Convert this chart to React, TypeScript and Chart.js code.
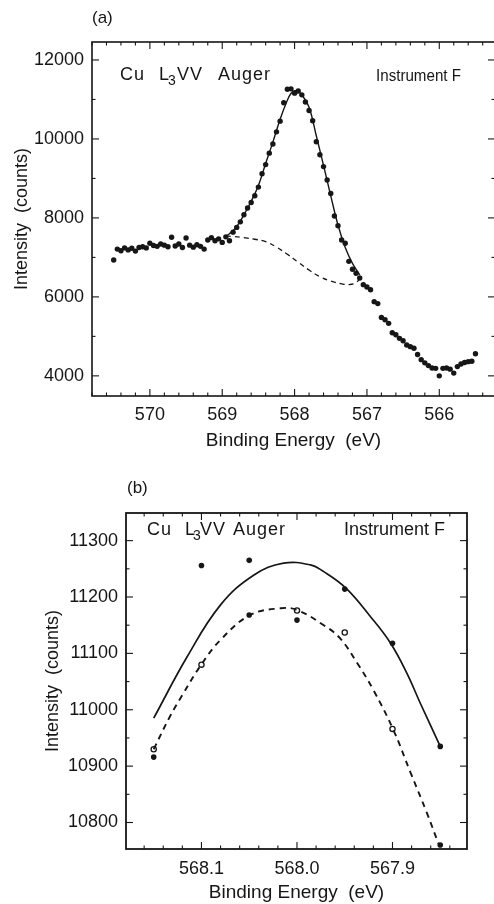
import React, { useEffect, useRef } from "react";
import { Chart, registerables } from "chart.js";

Chart.register(...registerables);

const FONT = '"Liberation Sans", Arial, Helvetica, sans-serif';
const INK = "#161616";

// ---------- Panel (a): Cu L3VV Auger, full spectrum ----------
const energyA = [
  570.5, 570.45, 570.4, 570.35, 570.3, 570.25, 570.2, 570.15, 570.1, 570.05,
  570.0, 569.95, 569.9, 569.85, 569.8, 569.75, 569.7, 569.65, 569.6, 569.55,
  569.5, 569.45, 569.4, 569.35, 569.3, 569.25, 569.2, 569.15, 569.1, 569.05,
  569.0, 568.95, 568.9, 568.85, 568.8, 568.75, 568.7, 568.65, 568.6, 568.55,
  568.5, 568.45, 568.4, 568.35, 568.3, 568.25, 568.2, 568.15, 568.1, 568.05,
  568.0, 567.95, 567.9, 567.85, 567.8, 567.75, 567.7, 567.65, 567.6, 567.55,
  567.5, 567.45, 567.4, 567.35, 567.3, 567.25, 567.2, 567.15, 567.1, 567.05,
  567.0, 566.95, 566.9, 566.85, 566.8, 566.75, 566.7, 566.65, 566.6, 566.55,
  566.5, 566.45, 566.4, 566.35, 566.3, 566.25, 566.2, 566.15, 566.1, 566.05,
  566.0, 565.95, 565.9, 565.85, 565.8, 565.75, 565.7, 565.65, 565.6, 565.55,
  565.5,
];
const countsA = [
  6935, 7210, 7170, 7240, 7190, 7230, 7160, 7250, 7270, 7240,
  7360, 7300, 7280, 7340, 7310, 7270, 7510, 7290, 7340, 7250,
  7490, 7310, 7260, 7320, 7280, 7210, 7440, 7500, 7420, 7470,
  7380, 7520, 7420, 7640, 7760, 7900, 8080, 8250, 8390, 8560,
  8780, 9120, 9350, 9640, 9870, 10180, 10450, 10915, 11258, 11268,
  11160, 11215, 11117, 10935, 10720, 10460, 9930, 9600, 9300, 8960,
  8620, 8050, 7800, 7440, 7360, 6900, 6700, 6600, 6480, 6310,
  6250, 6180, 5880, 5830, 5480, 5420, 5330, 5090, 5040, 4950,
  4890, 4780, 4740, 4700, 4540, 4410, 4330, 4260, 4200, 4190,
  4000, 4190, 4200, 4170, 4070, 4235, 4300, 4340, 4360, 4370,
  4560,
];
const fitEnergyA = [
  568.95, 568.9, 568.8, 568.7, 568.6, 568.5, 568.4, 568.3, 568.2, 568.1, 568.05,
  568.0, 567.95, 567.9, 567.8, 567.7, 567.6, 567.5, 567.4, 567.3, 567.2, 567.1,
];
const fitCountsA = [
  7540, 7600, 7780, 8080, 8420, 8820, 9380, 9920, 10500, 10980, 11150,
  11220, 11200, 11120, 10800, 10080, 9330, 8560, 7820, 7250, 6850, 6560,
];
const bgEnergyA = [
  568.95, 568.85, 568.7, 568.55, 568.4, 568.25, 568.1, 567.95, 567.8, 567.65,
  567.5, 567.35, 567.25, 567.15, 567.08,
];
const bgCountsA = [
  7540, 7530, 7500, 7460, 7400, 7260, 7080, 6880, 6680, 6510,
  6400, 6330, 6310, 6360, 6520,
];
const xTicksA = [570, 569, 568, 567, 566];
const yTicksA = [4000, 6000, 8000, 10000, 12000];

// ---------- Panel (b): peak region ----------
const solidEnergyB = [
  568.15, 568.115, 568.08, 568.045, 568.014, 567.986, 567.972, 567.949, 567.923,
  567.902, 567.885, 567.871, 567.85,
];
const solidCountsB = [
  10985, 11094, 11186, 11239, 11260, 11257, 11245, 11216, 11165,
  11118, 11065, 11012, 10935,
];
const dashedEnergyB = [
  568.15, 568.133, 568.12, 568.101, 568.08, 568.049, 568.017, 568.0, 567.972,
  567.955, 567.937, 567.92, 567.899, 567.881, 567.864, 567.852,
];
const dashedCountsB = [
  10930, 10988, 11026, 11078, 11124, 11168, 11180, 11177, 11150,
  11127, 11083, 11035, 10964, 10888, 10817, 10763,
];
const filledEnergyB = [568.15, 568.1, 568.05, 568.05, 568.0, 567.95, 567.9, 567.85, 567.85];
const filledCountsB = [10916, 11256, 11265, 11168, 11159, 11214, 11118, 10935, 10760];
const openEnergyB = [568.15, 568.1, 568.0, 567.95, 567.9];
const openCountsB = [10930, 11080, 11176, 11137, 10966];
const xTicksB = [568.1, 568.0, 567.9];
const yTicksB = [10800, 10900, 11000, 11100, 11200, 11300];

const zip = (xs: number[], ys: number[]) => xs.map((x, i) => ({ x, y: ys[i] }));

type PanelText = {
  tag: string;
  tagX: number;
  tagY: number;
  cuX: number[]; // Cu, L, 3, VV, Auger
  cuY: number;
  cuSize: number;
  instX: number;
  instY: number;
  instSize: number;
  instW: number;
};

const setSpacing = (ctx: any, s: string) => {
  try {
    ctx.letterSpacing = s;
  } catch (e) {
    /* ignore */
  }
};

const framePlugin = {
  id: "frameTicks",
  afterDatasetsDraw(chart: any, _args: any, opts: any) {
    const { ctx, chartArea } = chart;
    const { left, right, top, bottom } = chartArea;
    const xs = chart.scales.x;
    const ys = chart.scales.y;
    ctx.save();
    ctx.strokeStyle = INK;
    ctx.lineWidth = opts.lineWidth;
    ctx.strokeRect(left, top, right - left, bottom - top);
    ctx.lineWidth = 1.1;
    const seg = (x1: number, y1: number, x2: number, y2: number) => {
      ctx.beginPath();
      ctx.moveTo(x1, y1);
      ctx.lineTo(x2, y2);
      ctx.stroke();
    };
    const eps = 1e-6;
    for (let v = opts.xMinorStart; v <= opts.xMinorEnd + eps; v += opts.xMinorStep) {
      const isMajor = opts.xMajor.some((m: number) => Math.abs(m - v) < 1e-4);
      const len = isMajor ? opts.majorLen : opts.minorLen;
      const px = xs.getPixelForValue(v);
      if (px < left - 0.5 || px > right + 0.5) continue;
      seg(px, bottom, px, bottom - len);
      seg(px, top, px, top + len);
    }
    for (let v = opts.yMinorStart; v <= opts.yMinorEnd + eps; v += opts.yMinorStep) {
      const isMajor = opts.yMajor.some((m: number) => Math.abs(m - v) < 1e-4);
      const len = isMajor ? opts.majorLen : opts.minorLen;
      const py = ys.getPixelForValue(v);
      if (py < top - 0.5 || py > bottom + 0.5) continue;
      seg(left, py, left + len, py);
      seg(right, py, right - len, py);
    }
    // text labels
    const t: PanelText = opts.text;
    ctx.fillStyle = INK;
    ctx.textBaseline = "middle";
    ctx.textAlign = "left";
    ctx.font = `17px ${FONT}`;
    ctx.fillText(t.tag, t.tagX, t.tagY);
    setSpacing(ctx, "1px");
    ctx.font = `${t.cuSize}px ${FONT}`;
    ctx.fillText("Cu", t.cuX[0], t.cuY);
    ctx.fillText("L", t.cuX[1], t.cuY);
    ctx.font = `${Math.round(t.cuSize * 0.75)}px ${FONT}`;
    ctx.fillText("3", t.cuX[2], t.cuY + 6);
    ctx.font = `${t.cuSize}px ${FONT}`;
    ctx.fillText("VV", t.cuX[3], t.cuY);
    ctx.fillText("Auger", t.cuX[4], t.cuY);
    setSpacing(ctx, "0px");
    ctx.font = `${t.instSize}px ${FONT}`;
    ctx.fillText("Instrument F", t.instX, t.instY, t.instW);
    ctx.restore();
  },
};

type PanelCfg = {
  datasets: any[];
  xMin: number;
  xMax: number;
  yMin: number;
  yMax: number;
  xTicks: number[];
  yTicks: number[];
  xFmt: (v: number) => string;
  padding: { top: number; right: number; left: number; bottom: number };
  yWidth: number;
  xHeight: number;
  xTickPad: number;
  yTickPad: number;
  xTitlePad: any;
  yTitlePad: any;
  frame: any;
};

function buildConfig(p: PanelCfg): any {
  return {
    type: "scatter",
    data: { datasets: p.datasets },
    plugins: [framePlugin],
    options: {
      responsive: false,
      animation: false,
      devicePixelRatio: 1,
      layout: { padding: p.padding },
      plugins: {
        legend: { display: false },
        tooltip: { enabled: false },
        frameTicks: p.frame,
      },
      scales: {
        x: {
          type: "linear",
          reverse: true,
          min: p.xMin,
          max: p.xMax,
          afterBuildTicks: (s: any) => {
            s.ticks = p.xTicks.map((v) => ({ value: v }));
          },
          afterFit: (s: any) => {
            s.height = p.xHeight;
          },
          grid: { display: false, drawTicks: false },
          border: { display: false },
          ticks: {
            autoSkip: false,
            maxRotation: 0,
            padding: p.xTickPad,
            color: INK,
            font: { family: FONT, size: 18 },
            callback: (v: any) => p.xFmt(Number(v)),
          },
          title: {
            display: true,
            text: "Binding Energy  (eV)",
            color: INK,
            font: { family: FONT, size: 19 },
            padding: p.xTitlePad,
          },
        },
        y: {
          type: "linear",
          min: p.yMin,
          max: p.yMax,
          afterBuildTicks: (s: any) => {
            s.ticks = p.yTicks.map((v) => ({ value: v }));
          },
          afterFit: (s: any) => {
            s.width = p.yWidth;
          },
          grid: { display: false, drawTicks: false },
          border: { display: false },
          ticks: {
            autoSkip: false,
            padding: p.yTickPad,
            color: INK,
            font: { family: FONT, size: 18 },
            callback: (v: any) => String(v),
          },
          title: {
            display: true,
            text: "Intensity  (counts)",
            color: INK,
            font: { family: FONT, size: 18 },
            padding: p.yTitlePad,
          },
        },
      },
    },
  };
}

const dotStyle = (r: number) => ({
  showLine: false,
  pointRadius: r,
  pointBackgroundColor: INK,
  pointBorderColor: INK,
  pointBorderWidth: 0,
});

export default function App() {
  const refA = useRef<HTMLCanvasElement | null>(null);
  const refB = useRef<HTMLCanvasElement | null>(null);

  useEffect(() => {
    const cfgA = buildConfig({
      datasets: [
        {
          label: "Background",
          data: zip(bgEnergyA, bgCountsA),
          showLine: true,
          borderColor: INK,
          borderWidth: 1.3,
          borderDash: [5, 4],
          pointRadius: 0,
          tension: 0.4,
        },
        {
          label: "Fit",
          data: zip(fitEnergyA, fitCountsA),
          showLine: true,
          borderColor: INK,
          borderWidth: 1.4,
          pointRadius: 0,
          tension: 0.4,
        },
        { label: "Data", data: zip(energyA, countsA), ...dotStyle(2.7) },
      ],
      xMin: 565.23,
      xMax: 570.8,
      yMin: 3490,
      yMax: 12455,
      xTicks: xTicksA,
      yTicks: yTicksA,
      xFmt: (v) => String(Math.round(v)),
      padding: { top: 42, right: 5, left: 0, bottom: 0 },
      yWidth: 92,
      xHeight: 56,
      xTickPad: 8,
      yTickPad: 8,
      xTitlePad: { top: 0, bottom: 0 },
      yTitlePad: { top: 11, bottom: 0 },
      frame: {
        lineWidth: 1.6,
        majorLen: 7,
        minorLen: 3.5,
        xMajor: xTicksA,
        xMinorStart: 565.4,
        xMinorEnd: 570.8,
        xMinorStep: 0.2,
        yMajor: yTicksA,
        yMinorStart: 4000,
        yMinorEnd: 12000,
        yMinorStep: 1000,
        text: {
          tag: "(a)",
          tagX: 92,
          tagY: 18,
          cuX: [120, 159, 168, 177, 218],
          cuY: 75,
          cuSize: 18,
          instX: 376,
          instY: 77,
          instSize: 16,
          instW: 85,
        },
      },
    });

    const cfgB = buildConfig({
      datasets: [
        {
          label: "Fit (dashed)",
          data: zip(dashedEnergyB, dashedCountsB),
          showLine: true,
          borderColor: INK,
          borderWidth: 1.9,
          borderDash: [6, 5],
          pointRadius: 0,
          tension: 0.4,
        },
        {
          label: "Fit (solid)",
          data: zip(solidEnergyB, solidCountsB),
          showLine: true,
          borderColor: INK,
          borderWidth: 1.7,
          pointRadius: 0,
          tension: 0.4,
        },
        { label: "Filled", data: zip(filledEnergyB, filledCountsB), ...dotStyle(2.8) },
        {
          label: "Open",
          data: zip(openEnergyB, openCountsB),
          showLine: false,
          pointRadius: 2.6,
          pointBackgroundColor: "#ffffff",
          pointBorderColor: INK,
          pointBorderWidth: 1.3,
        },
      ],
      xMin: 567.822,
      xMax: 568.179,
      yMin: 10753,
      yMax: 11349,
      xTicks: xTicksB,
      yTicks: yTicksB,
      xFmt: (v) => v.toFixed(1),
      padding: { top: 63, right: 27, left: 0, bottom: 0 },
      yWidth: 126,
      xHeight: 55,
      xTickPad: 9,
      yTickPad: 8,
      xTitlePad: { top: 0, bottom: 0 },
      yTitlePad: { top: 42, bottom: 0 },
      frame: {
        lineWidth: 1.8,
        majorLen: 7,
        minorLen: 3.5,
        xMajor: xTicksB,
        xMinorStart: 567.82,
        xMinorEnd: 568.18,
        xMinorStep: 0.02,
        yMajor: yTicksB,
        yMinorStart: 10750,
        yMinorEnd: 11350,
        yMinorStep: 50,
        text: {
          tag: "(b)",
          tagX: 127,
          tagY: 38,
          cuX: [147, 185, 193, 200, 233],
          cuY: 80,
          cuSize: 18,
          instX: 344,
          instY: 80,
          instSize: 18,
          instW: 104,
        },
      },
    });

    const chartA = new Chart(refA.current as HTMLCanvasElement, cfgA);
    const chartB = new Chart(refB.current as HTMLCanvasElement, cfgB);
    return () => {
      chartA.destroy();
      chartB.destroy();
    };
  }, []);

  return (
    <div
      style={{
        position: "absolute",
        left: 0,
        top: 0,
        width: 494,
        height: 904,
        overflow: "hidden",
        background: "#ffffff",
      }}
    >
      <canvas
        ref={refA}
        width={500}
        height={452}
        style={{ position: "absolute", left: 0, top: 0, width: 500, height: 452 }}
      />
      <canvas
        ref={refB}
        width={494}
        height={454}
        style={{ position: "absolute", left: 0, top: 450, width: 494, height: 454 }}
      />
    </div>
  );
}
